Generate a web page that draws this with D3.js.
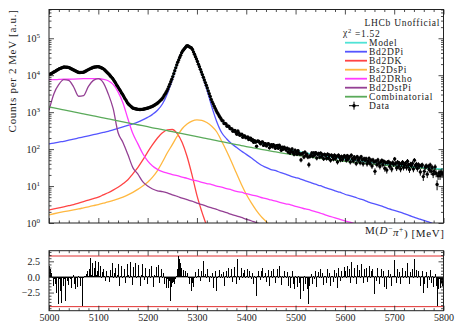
<!DOCTYPE html>
<html>
<head>
<meta charset="utf-8">
<script src="https://cdn.jsdelivr.net/npm/d3@7"></script>
<style>
  body { margin: 0; background: #fff; }
  text, .tick text { font-family: "Liberation Serif", serif; fill: #222; }
  .tick text { font-size: 10px; }
  .tick line { stroke: #222; stroke-width: 0.8; }
  .legend text { font-size: 9.5px; letter-spacing: 0.7px; }
</style>
</head>
<body>
<svg id="chart" width="457" height="322"></svg>
<script>
// ---- fitted shapes, sampled every 10 MeV from 5000 to 5800 ----
const shapeMass = d3.range(5000, 5801, 10);

const model = [10230, 12194, 14679, 16663, 16264, 13844, 11796, 11970, 14219, 16417,
  17180, 15064, 11212, 7844, 4790, 2892, 1705, 1286, 1195, 1195,
  1281, 1441, 1740, 2346, 3916, 8379, 20740, 43450, 63909, 53325,
  25408, 11296, 4901, 2025, 1039, 619, 440, 337, 276, 233,
  203, 179, 160, 143, 132, 122, 115, 107, 100, 94.4,
  89, 84.5, 79.5, 75.4, 71.6, 68.1, 64.6, 61.7, 58.9, 56.5,
  54, 51.8, 49.8, 47.8, 45.9, 44.1, 42.6, 41.2, 39.9, 38.5,
  37.4, 36.2, 35.2, 34.2, 33.3, 32.4, 31.5, 30.7, 30.0, 29.3, 28.7];

const bd2dpi = [138, 145, 155, 162, 174, 186, 200, 214, 229, 245,
  263, 282, 302, 331, 363, 398, 437, 479, 537, 617,
  724, 871, 1122, 1660, 3162, 7586, 19950, 42660, 63100, 52480,
  24550, 10470, 4169, 1413, 562, 282, 191, 141, 112, 89,
  72, 58, 46, 37, 32, 28, 26, 23, 21, 18.6,
  17, 15.5, 13.8, 12.6, 11.2, 10.2, 9.1, 8.3, 7.4, 6.8,
  6.0, 5.5, 5.0, 4.5, 4.1, 3.6, 3.3, 3.0, 2.7, 2.4,
  2.2, 2.0, 1.8, 1.6, 1.45, 1.3, 1.17, 1.07, 0.95, 0.87, 0.78];

const bd2dk = [2.24, 2.4, 2.57, 2.75, 2.95, 3.16, 3.47, 3.8, 4.17, 4.57,
  5.0, 5.75, 6.6, 7.76, 9.3, 11.5, 14.8, 21.4, 31.6, 50,
  83, 132, 200, 275, 331, 339, 263, 151, 63, 20,
  5.6, 2.0, 0.8, 0.25, 0.06];

const bs2dspi = [1.66, 1.78, 1.9, 2.02, 2.14, 2.26, 2.4, 2.57, 2.75, 2.95,
  3.16, 3.43, 3.72, 4.07, 4.47, 5.0, 5.75, 6.76, 8.13, 10,
  12.6, 17.4, 26.3, 44.7, 79.4, 132, 224, 355, 479, 575,
  617, 603, 525, 417, 295, 166, 89, 45.7, 22.4, 11.2,
  6.0, 3.55, 2.24, 1.51, 1.1, 0.79, 0.5, 0.25, 0.1];

const bd2drho = [7586, 7586, 7674, 7762, 7762, 7852, 7943, 8035, 8128, 8128,
  8035, 7762, 7079, 5623, 3548, 1778, 661, 263, 141, 76,
  48, 34.7, 28.2, 24.5, 22.4, 20.4, 19.1, 17.4, 16.2, 14.8,
  13.8, 12.6, 11.7, 11.0, 10, 9.3, 8.5, 7.9, 7.2, 6.8,
  6.2, 5.75, 5.4, 4.9, 4.6, 4.2, 3.9, 3.55, 3.3, 3.1,
  2.8, 2.6, 2.4, 2.24, 2.04, 1.86, 1.66, 1.51, 1.38, 1.26,
  1.15, 1.05, 0.95, 0.87, 0.79, 0.72];

const bd2dstpi = [1122, 3162, 5623, 7586, 7244, 4786, 2692, 2818, 5012, 7244,
  8128, 6310, 3162, 1259, 282, 151, 71, 31.6, 21.4, 13.2,
  10, 8.3, 7.4, 7.1, 6.5, 5.75, 5.25, 4.7, 4.27, 3.9,
  3.47, 3.16, 2.82, 2.57, 2.34, 2.09, 1.9, 1.7, 1.55, 1.41,
  1.26, 1.15, 1.02, 0.93, 0.85];

const combinatorial = [1380, 1297, 1222, 1148, 1079, 1014, 955, 897, 843, 793,
  746, 701, 659, 619, 583, 548, 515, 484, 456, 429,
  403, 378, 356, 335, 315, 296, 279, 262, 246, 231,
  218, 205, 192, 181, 170, 160, 150, 141, 133, 125,
  117.5, 111, 105, 98.9, 93.3, 88.3, 83.8, 79.4, 75.5, 72.1,
  68.9, 66.1, 63.1, 60.5, 58.2, 56.0, 53.8, 51.9, 50.1, 48.4,
  46.8, 45.2, 43.8, 42.4, 41.0, 39.8, 38.6, 37.6, 36.6, 35.6,
  34.7, 33.8, 33.0, 32.2, 31.5, 30.8, 30.1, 29.4, 28.8, 28.2, 27.7];

// ---- data: counts per 2 MeV bin, bin centres 5001 ... 5799 ----
const dataMass = d3.range(5001, 5800, 2);
const dataCounts = [
  10410, 10790, 11170, 11570, 11980, 12420, 12880, 13380, 13900, 14420, 14880, 15260, 15650, 16050, 16460, 16630, 16560, 16460, 16370, 16290,
  16000, 15490, 15000, 14520, 14060, 13610, 13180, 12780, 12390, 11990, 11820, 11860, 11890, 11920, 11940, 12180, 12610, 13050, 13510, 13980,
  14420, 14860, 15280, 15700, 16180, 16480, 16630, 16790, 16940, 17100, 16940, 16520, 16090, 15670, 15280, 14620, 13800, 13000, 12250, 11560,
  10830, 10080, 9390, 8740, 8140, 7470, 6770, 6130, 5550, 5030, 4550, 4110, 3720, 3370, 3040, 2740, 2470, 2220, 2000, 1800,
  1660, 1570, 1480, 1400, 1320, 1276, 1257, 1239, 1222, 1203, 1190, 1185, 1185, 1188, 1192, 1203, 1220, 1237, 1255, 1272,
  1296, 1327, 1359, 1391, 1424, 1469, 1525, 1584, 1644, 1708, 1793, 1903, 2020, 2145, 2277, 2470, 2735, 3030, 3357, 3720,
  4225, 4918, 5728, 6668, 7762, 9176, 11000, 13180, 15800, 18940, 22330, 25880, 30020, 34790, 40360, 45150, 48790, 52710, 56930, 61500,
  62760, 60530, 58380, 56300, 54300, 49520, 42690, 36810, 31740, 27360, 23430, 19930, 16940, 14400, 12250, 10390, 8790, 7440, 6300, 5330,
  4487, 3760, 3151, 2640, 2212, 1894, 1658, 1451, 1269, 1111, 986, 889, 802, 723, 652, 588, 578, 490, 492, 476,
  417, 424, 412, 359, 355, 352, 303, 315, 320, 285, 253, 308, 275, 238, 244, 253, 210, 228, 228, 203,
  207, 213, 181, 198, 197, 172, 181, 153, 169, 154, 119, 165, 163, 152, 139, 153, 157, 126, 140, 141,
  122, 136, 139, 108, 126, 131, 116, 132, 122, 105, 123, 125, 105, 127, 112, 93, 112, 100, 112, 103,
  94, 106, 83, 99, 78, 88, 101, 81, 72, 93, 82, 73, 91, 78, 73, 51, 74, 78, 61, 83,
  68, 73, 61, 38, 63, 68, 79, 64, 79, 69, 80, 57, 72, 76, 61, 78, 63, 71, 55, 72,
  67, 56, 73, 58, 68, 50, 68, 62, 54, 68, 56, 63, 45, 68, 60, 51, 63, 52, 61, 66,
  60, 50, 66, 55, 61, 45, 68, 55, 48, 61, 55, 41, 62, 50, 56, 43, 62, 52, 40, 55,
  50, 55, 40, 47, 56, 41, 50, 35, 51, 45, 25, 47, 38, 51, 42, 34, 45, 49, 38, 46,
  30, 43, 27, 44, 45, 34, 41, 29, 43, 39, 54, 41, 31, 44, 34, 41, 29, 39, 44, 32,
  39, 41, 32, 47, 37, 28, 39, 36, 41, 29, 50, 36, 39, 30, 38, 35, 24, 36, 37, 18,
  25, 33, 35, 21, 34, 28, 37, 25, 32, 21, 25, 33, 22, 11, 19, 23, 19, 24, 21, 22];

// pulls per bin
const pulls = [
  1.8, 1.2, 0.6, -0.2, -1.5, -0.3, -1.2, -2.5, -0.2, -4.3, -0.3, -2.2, -4.2, -0.2, -1.5, -0.3, -3.8, -0.2, -0.6, -1.3,
  -0.2, -0.4, -1.8, -0.1, 0.3, -1.2, -2.0, -0.1, -1.6, 0.2, -0.2, -1.4, -0.1, -4.7, -0.2, 0.1, 0.6, 0.2, 0.4, 0.9,
  0.2, 1.2, 3.0, 0.3, 2.2, 0.2, 1.4, 2.5, 0.3, 1.0, 2.4, 0.1, 1.7, -0.2, 0.8, 1.2, 0.1, -0.6, 1.0, 0.2,
  0.1, -0.8, 1.1, 0.2, 2.3, -0.2, 0.6, 1.5, -0.1, 0.3, 2.1, -1.5, 0.1, 1.8, -0.2, 0.2, 1.3, -1.0, 0.2, 2.0,
  0.3, -0.2, 2.4, 0.2, -1.3, 1.6, 0.1, 2.2, -0.2, 0.1, 1.9, 0.2, -1.4, 0.3, 2.0, 0.1, -0.5, 1.4, 0.2, -1.1,
  0.2, 1.3, -0.2, 1.8, 0.1, -1.6, 0.3, 0.1, 1.6, -0.1, 0.2, 1.9, -1.0, 0.1, 1.2, -0.1, 0.7, -1.2, -0.2, -1.8,
  -0.3, -1.8, -0.6, -3.9, -1.6, -1.0, -0.8, -1.2, -0.3, 0.2, 1.2, 3.3, 2.9, 2.2, 1.5, 0.2, 1.1, 0.1, 1.0, 0.2,
  0.6, -0.1, -1.2, -0.2, -2.2, -1.0, -1.6, -0.1, 0.8, -0.2, 0.1, 1.2, 0.1, -0.6, 1.0, 0.2, 2.6, 0.2, 0.4, -0.1,
  1.3, 0.1, -0.8, 0.2, -0.1, 0.6, -1.8, -0.1, 0.9, -2.3, -0.2, 0.1, 1.1, -0.2, 0.5, -0.1, 0.8, -1.4, 0.1, 1.0,
  -0.2, 0.9, 1.4, -0.1, 0.2, 1.2, -0.8, 0.1, 1.6, 0.1, -1.1, 2.8, 0.2, -0.5, 0.1, 1.5, -0.2, 0.7, 1.1, -0.1,
  0.1, 1.3, -0.2, 0.9, 0.2, -0.4, 0.6, -1.2, 0.1, -0.2, -3.1, 0.2, 1.0, 0.1, -0.5, 0.9, 1.4, -0.2, 0.1, 0.7,
  -0.8, 0.1, 1.1, -1.5, 0.1, 0.9, -0.1, 1.3, 0.2, -1.0, 0.1, 1.2, -0.2, 1.7, 0.1, -1.3, 0.2, -0.1, 1.0, 0.1,
  -0.2, 0.8, -1.4, 0.1, -1.8, -0.2, 0.9, -1.1, -2.0, 0.1, -0.2, -1.6, 0.2, -0.9, -1.3, -3.6, -0.2, -0.1, -2.2, 0.1,
  -1.2, -0.2, -1.9, -4.4, -1.5, -0.2, 0.5, -1.1, 0.1, -0.4, 1.0, -1.6, 0.1, 0.8, -0.2, 1.2, -0.1, 0.6, -1.3, 0.2,
  0.1, -1.0, 1.3, -0.2, 0.7, -1.4, 0.2, 0.1, -0.8, 1.1, -0.1, 0.6, -1.7, 1.4, 0.1, -0.7, 1.0, -0.1, 0.2, 1.6,
  0.9, -0.1, 1.8, 0.1, 1.2, -0.9, 2.4, 0.2, -0.1, 1.5, 0.2, -1.2, 1.9, 0.1, 1.1, -0.2, 2.1, 0.2, -1.0, 1.3,
  0.2, 1.4, -0.8, 0.1, 1.7, -0.2, 0.9, -1.3, 1.2, 0.1, -2.7, 0.2, -0.6, 1.5, 0.1, -1.1, 0.2, 1.3, -0.1, 0.9,
  -1.6, 0.1, -2.0, 0.2, 1.1, -0.2, 0.4, -1.5, 0.2, 0.1, 2.7, 0.2, -0.9, 1.2, -0.1, 0.8, -1.2, 0.1, 1.4, -0.2,
  0.2, 1.0, -0.1, 2.2, 0.1, -1.1, 0.8, 0.1, 1.3, -0.2, 2.9, 0.1, 1.1, -0.1, 0.9, 0.2, -1.4, 0.1, 1.0, -2.5,
  -1.2, 0.1, 0.8, -1.8, 0.2, -0.5, 1.1, -1.0, 0.1, -1.6, -0.2, 0.5, -1.4, -4.6, -2.0, -0.3, -1.8, -0.9, -1.5, -1.2];

const pullLimits = [3.35, -4.75];

// ticks
const massTicks = [5000, 5100, 5200, 5300, 5400, 5500, 5600, 5700, 5800];
const countDecades = [1, 10, 100, 1000, 10000, 100000];
const pullTicks = [-2.5, 0, 2.5];

// ---- layout ----
const svg = d3.select("#chart");
const xLeft = 49, xRight = 443.5;
const yTop = 9.5, yBot = 223;        // upper panel
const pTop = 250.7, pBot = 310.7;    // pull panel

const x = d3.scaleLinear().domain([5000, 5800]).range([xLeft, xRight]);
const y = d3.scaleLog().domain([1, 6e5]).range([yBot, yTop]);
const yp = d3.scaleLinear().domain([-5.4, 4.2]).range([pBot, pTop]);

svg.append("defs").append("clipPath").attr("id", "clipTop")
  .append("rect").attr("x", xLeft).attr("y", yTop).attr("width", xRight - xLeft).attr("height", yBot - yTop);

const components = [
  { name: "Model", values: model, color: "#4fe3d6" },
  { name: "Bd2DPi", values: bd2dpi, color: "#5555ff" },
  { name: "Bd2DK", values: bd2dk, color: "#ff4444" },
  { name: "Bs2DsPi", values: bs2dspi, color: "#ffb840" },
  { name: "Bd2DRho", values: bd2drho, color: "#ff3cff" },
  { name: "Bd2DstPi", values: bd2dstpi, color: "#944094" },
  { name: "Combinatorial", values: combinatorial, color: "#5aaa5a" }
];

const plot = svg.append("g").attr("clip-path", "url(#clipTop)");

const line = d3.line()
  .defined(d => d[1] != null)
  .x(d => x(d[0]))
  .y(d => y(d[1]))
  .curve(d3.curveMonotoneX);

// components first, model under the data
components.slice(1).concat(components.slice(0, 1)).forEach(c => {
  plot.append("path")
    .datum(shapeMass.map((m, i) => [m, c.values[i]]))
    .attr("fill", "none")
    .attr("stroke", c.color)
    .attr("stroke-width", 1.3)
    .attr("d", line);
});

// data points with error bars
const pts = dataMass.map((m, i) => ({ m: m, n: dataCounts[i] }));
plot.append("g").selectAll("line").data(pts).join("line")
  .attr("x1", d => x(d.m)).attr("x2", d => x(d.m))
  .attr("y1", d => y(d.n + Math.sqrt(d.n)))
  .attr("y2", d => y(Math.max(d.n - Math.sqrt(d.n), 0.5)))
  .attr("stroke", "#000").attr("stroke-width", 1);
plot.append("g").selectAll("line").data(pts).join("line")
  .attr("x1", d => x(d.m - 1)).attr("x2", d => x(d.m + 1))
  .attr("y1", d => y(d.n)).attr("y2", d => y(d.n))
  .attr("stroke", "#000").attr("stroke-width", 1);
plot.append("g").selectAll("circle").data(pts).join("circle")
  .attr("cx", d => x(d.m)).attr("cy", d => y(d.n))
  .attr("r", 1.7).attr("fill", "#000");

// ---- pull panel ----
const pull = svg.append("g");
pull.selectAll("line.lim").data(pullLimits).join("line")
  .attr("x1", xLeft).attr("x2", xRight)
  .attr("y1", d => yp(d)).attr("y2", d => yp(d))
  .attr("stroke", "#e03030").attr("stroke-width", 1);
const binW = x(5002) - x(5000);
pull.append("g").attr("shape-rendering", "crispEdges")
  .selectAll("rect").data(pulls).join("rect")
  .attr("x", (p, i) => x(dataMass[i]) - binW / 2)
  .attr("width", binW)
  .attr("y", p => yp(Math.max(p, 0)))
  .attr("height", p => Math.abs(yp(p) - yp(0)))
  .attr("fill", "#000");
pull.append("line").attr("x1", xLeft).attr("x2", xRight)
  .attr("y1", yp(0)).attr("y2", yp(0)).attr("stroke", "#000").attr("stroke-width", 0.8);

// ---- axes ----
const minorMass = d3.range(5000, 5801, 20).filter(v => v % 100 !== 0);
const noDomain = g => g.select(".domain").remove();

function massAxes(y0, y1, withLabels) {
  const bot = d3.axisBottom(x).tickValues(massTicks).tickSize(-5).tickSizeOuter(0).tickPadding(3)
    .tickFormat(withLabels ? d3.format("d") : "");
  svg.append("g").attr("transform", `translate(0,${y1})`).call(bot).call(noDomain);
  svg.append("g").attr("transform", `translate(0,${y1})`)
    .call(d3.axisBottom(x).tickValues(minorMass).tickSize(-2.5).tickFormat("")).call(noDomain);
  svg.append("g").attr("transform", `translate(0,${y0})`)
    .call(d3.axisTop(x).tickValues(massTicks).tickSize(-5).tickFormat("")).call(noDomain);
  svg.append("g").attr("transform", `translate(0,${y0})`)
    .call(d3.axisTop(x).tickValues(minorMass).tickSize(-2.5).tickFormat("")).call(noDomain);
}
massAxes(yTop, yBot, false);
massAxes(pTop, pBot, true);

// log count axis
const minorCounts = y.ticks().filter(v => !countDecades.includes(v));
svg.append("g").attr("transform", `translate(${xLeft},0)`)
  .call(d3.axisLeft(y).tickValues(countDecades).tickSize(-5).tickPadding(9).tickFormat(() => ""))
  .call(noDomain)
  .call(g => g.selectAll(".tick text").each(function (d) {
    const t = d3.select(this);
    t.append("tspan").text("10");
    t.append("tspan").attr("dy", "-0.5em").attr("font-size", "7px").text(Math.round(Math.log10(d)));
  }));
svg.append("g").attr("transform", `translate(${xLeft},0)`)
  .call(d3.axisLeft(y).tickValues(minorCounts).tickSize(-2.5).tickFormat("")).call(noDomain);
svg.append("g").attr("transform", `translate(${xRight},0)`)
  .call(d3.axisRight(y).tickValues(countDecades).tickSize(-5).tickFormat("")).call(noDomain);
svg.append("g").attr("transform", `translate(${xRight},0)`)
  .call(d3.axisRight(y).tickValues(minorCounts).tickSize(-2.5).tickFormat("")).call(noDomain);

// pull axis
const minorPull = d3.range(-5, 4.01, 0.5).filter(v => !pullTicks.includes(v));
svg.append("g").attr("transform", `translate(${xLeft},0)`)
  .call(d3.axisLeft(yp).tickValues(pullTicks).tickSize(-5).tickPadding(9)
    .tickFormat(v => d3.format(".1f")(v).replace("-", "\u2212")))
  .call(noDomain);
svg.append("g").attr("transform", `translate(${xLeft},0)`)
  .call(d3.axisLeft(yp).tickValues(minorPull).tickSize(-2.5).tickFormat("")).call(noDomain);
svg.append("g").attr("transform", `translate(${xRight},0)`)
  .call(d3.axisRight(yp).tickValues(pullTicks).tickSize(-5).tickFormat("")).call(noDomain);
svg.append("g").attr("transform", `translate(${xRight},0)`)
  .call(d3.axisRight(yp).tickValues(minorPull).tickSize(-2.5).tickFormat("")).call(noDomain);

// frames
[[yTop, yBot], [pTop, pBot]].forEach(([a, b]) => {
  svg.append("rect").attr("x", xLeft).attr("y", a).attr("width", xRight - xLeft).attr("height", b - a)
    .attr("fill", "none").attr("stroke", "#222").attr("stroke-width", 1);
});

// ---- titles ----
svg.append("text")
  .attr("transform", `translate(16,${yTop}) rotate(-90)`)
  .attr("text-anchor", "end").attr("font-size", "11px").style("letter-spacing", "0.7px")
  .text("Counts per 2\u2009MeV [a.u.]");

const xt = svg.append("text").attr("x", xRight + 1).attr("y", 234)
  .attr("text-anchor", "end").attr("font-size", "11px").style("letter-spacing", "0.6px");
xt.append("tspan").text("M(");
xt.append("tspan").attr("font-style", "italic").text("D");
xt.append("tspan").attr("dy", "-0.45em").attr("font-size", "7.5px").text("\u2212");
xt.append("tspan").attr("dy", "0.45em").attr("font-style", "italic").text("\u03c0");
xt.append("tspan").attr("dy", "-0.45em").attr("font-size", "7.5px").text("+");
xt.append("tspan").attr("dy", "0.45em").text(") [MeV]");

// ---- legend ----
const legend = svg.append("g").attr("class", "legend");
legend.append("text").attr("x", 440).attr("y", 26).attr("text-anchor", "end").text("LHCb Unofficial");
const chi = legend.append("text").attr("x", 343).attr("y", 36);
chi.append("tspan").text("\u03c7");
chi.append("tspan").attr("dy", "-0.45em").attr("font-size", "6.5px").text("2");
chi.append("tspan").attr("dy", "0.45em").text(" =1.52");

const rowH = 9.0, row0 = 42.7;
components.forEach((c, i) => {
  const yy = row0 + i * rowH;
  legend.append("line").attr("x1", 345).attr("x2", 367).attr("y1", yy).attr("y2", yy)
    .attr("stroke", c.color).attr("stroke-width", 1.8);
  legend.append("text").attr("x", 369).attr("y", yy + 3.2).text(c.name);
});
const yd = row0 + components.length * rowH;
legend.append("line").attr("x1", 349).attr("x2", 359).attr("y1", yd).attr("y2", yd).attr("stroke", "#000");
legend.append("line").attr("x1", 354).attr("x2", 354).attr("y1", yd - 4).attr("y2", yd + 4).attr("stroke", "#000");
legend.append("circle").attr("cx", 354).attr("cy", yd).attr("r", 1.7).attr("fill", "#000");
legend.append("text").attr("x", 369).attr("y", yd + 3.2).text("Data");
</script>
</body>
</html>
